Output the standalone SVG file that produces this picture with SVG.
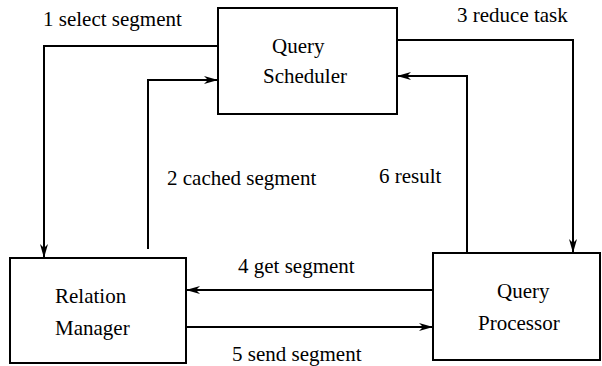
<svg xmlns="http://www.w3.org/2000/svg" width="602" height="366" viewBox="0 0 602 366">
<style>
.box{fill:#fff;stroke:#000;stroke-width:2}
.ln{fill:none;stroke:#000;stroke-width:2}
.t{font-family:'Liberation Serif','DejaVu Serif',serif;font-size:21px;fill:#000}
</style>
<defs>
<marker id="ah" viewBox="0 0 14 10" refX="13" refY="5" markerWidth="14" markerHeight="10" markerUnits="userSpaceOnUse" orient="auto">
<path d="M0,1 L14,5 L0,9 L4,5 Z" fill="#000"/>
</marker>
</defs>
<rect width="602" height="366" fill="#fff"/>
<g id="connectors">
<polyline class="ln" points="218,46 44,46 44,257" marker-end="url(#ah)"/>
<polyline class="ln" points="148,249 148,80 217,80" marker-end="url(#ah)"/>
<polyline class="ln" points="397,40 573,40 573,252" marker-end="url(#ah)"/>
<polyline class="ln" points="467,253 467,76 398,76" marker-end="url(#ah)"/>
<line class="ln" x1="433" y1="290" x2="187" y2="290" marker-end="url(#ah)"/>
<line class="ln" x1="186" y1="327" x2="432" y2="327" marker-end="url(#ah)"/>
<text class="t" x="43" y="26">1 select segment</text>
<text class="t" x="167" y="185">2 cached segment</text>
<text class="t" x="457" y="22">3 reduce task</text>
<text class="t" x="238" y="273">4 get segment</text>
<text class="t" x="232" y="361">5 send segment</text>
<text class="t" x="379" y="183">6 result</text>
</g>
<g id="scheduler">
<rect class="box" x="218" y="8" width="179" height="106"/>
<text class="t" x="272" y="53">Query</text>
<text class="t" x="263" y="83">Scheduler</text>
</g>
<g id="relation-manager">
<rect class="box" x="10" y="258" width="176" height="105"/>
<text class="t" x="55" y="303">Relation</text>
<text class="t" x="55" y="335">Manager</text>
</g>
<g id="query-processor">
<rect class="box" x="433" y="253" width="167" height="107"/>
<text class="t" x="497" y="298">Query</text>
<text class="t" x="478" y="330">Processor</text>
</g>
</svg>
